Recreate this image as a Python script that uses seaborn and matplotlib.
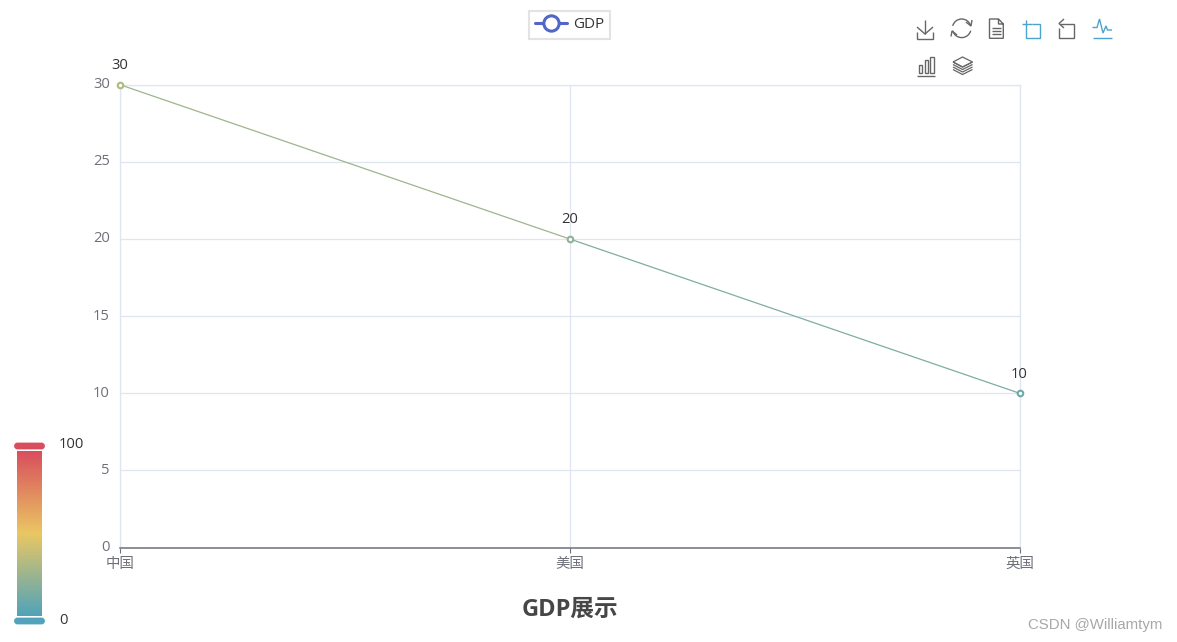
import numpy as np
import pandas as pd
import matplotlib
matplotlib.use("Agg")
import matplotlib.pyplot as plt
import seaborn as sns
from matplotlib.colors import LinearSegmentedColormap
from matplotlib.lines import Line2D
from matplotlib.patches import Arc, FancyBboxPatch, Rectangle

# ── Datos ──────────────────────────────────────────────
categorias = ["中国", "美国", "英国"]
valores = [30, 20, 10]
ticks_y = [0, 5, 10, 15, 20, 25, 30]
escala_min = 0
escala_max = 100
colores_mapa = ["#50a3ba", "#eac763", "#d94e5d"]
titulo = "GDP展示"
serie = "GDP"
marca_agua = "CSDN @Williamtym"

W, H = 1177, 642
GRIS_EJE = "#6e7079"
GRIS_GRID = "#e0e6f1"
GRIS_ICONO = "#666666"
AZUL_ICONO = "#4ea3cc"

sns.set_theme(style="white")
plt.rcParams["font.family"] = ["Open Sans", "Noto Sans CJK SC", "DejaVu Sans"]

cmap = LinearSegmentedColormap.from_list("visual", colores_mapa)
norm = plt.Normalize(escala_min, escala_max)

df = pd.DataFrame({"pais": categorias, "gdp": valores})
df["x"] = np.arange(len(df))

fig = plt.figure(figsize=(W / 100, H / 100), dpi=100)
ax = fig.add_axes([119.6 / W, 1 - 547.6 / H, 900 / W, 463 / H])

# ── Linea: cada tramo con el color de su valor medio ──
for i in range(len(df) - 1):
    tramo = df.iloc[i:i + 2]
    sns.lineplot(data=tramo, x="x", y="gdp", ax=ax, color=cmap(norm(tramo["gdp"].mean())),
                 lw=0.9, zorder=3, clip_on=False, errorbar=None, sort=False)

for _, fila in df.iterrows():
    ax.plot(fila["x"], fila["gdp"], "o", ms=4.0, mfc="white", mew=1.5,
            mec=cmap(norm(fila["gdp"])), zorder=4, clip_on=False)
    ax.annotate(str(fila["gdp"]), (fila["x"], fila["gdp"]), xytext=(0, 19), textcoords="offset pixels",
                ha="center", va="center", fontsize=10.6, color="#333333", annotation_clip=False)

ax.set_xlim(0, len(df) - 1)
ax.set_ylim(min(ticks_y), max(ticks_y))
ax.set_xticks(df["x"], categorias)
ax.set_yticks(ticks_y)
ax.set_xlabel("")
ax.set_ylabel("")
ax.grid(True, color=GRIS_GRID, lw=0.9)
ax.set_axisbelow(True)
for lado in ["top", "left", "right"]:
    ax.spines[lado].set_color(GRIS_GRID)
    ax.spines[lado].set_linewidth(0.9)
ax.spines["bottom"].set_color(GRIS_EJE)
ax.spines["bottom"].set_linewidth(1.1)
ax.tick_params(axis="x", length=3.6, width=0.8, color=GRIS_EJE, labelcolor=GRIS_EJE, labelsize=10.4, pad=3, bottom=True)
ax.tick_params(axis="y", length=0, labelcolor=GRIS_EJE, labelsize=10.6, pad=7)
for etiqueta in ax.get_yticklabels():
    etiqueta.set_verticalalignment("center")

# ── Leyenda ──
asa = Line2D([0], [0], color="#5166c6", lw=2.2, marker="o", ms=11, mfc="white", mew=2.2, mec="#5166c6")
ley = fig.legend([asa], [serie], loc="center", bbox_to_anchor=(569.5 / W, 1 - 25 / H), frameon=True,
                 fontsize=11, labelcolor="#333333", handlelength=2.05, handletextpad=0.4,
                 borderpad=0.42, borderaxespad=0, fancybox=False, edgecolor="#dcdcdc")
ley.get_frame().set_linewidth(1.5)

# ── Capa en pixeles para barra de escala e iconos ──
capa = fig.add_axes([0, 0, 1, 1], facecolor="none")
capa.set_xlim(0, W)
capa.set_ylim(H, 0)
capa.axis("off")

gradiente = np.linspace(1, 0, 256).reshape(-1, 1)
capa.imshow(gradiente, cmap=cmap, aspect="auto", extent=[17, 42, 616, 451], zorder=2)
capa.set_xlim(0, W)
capa.set_ylim(H, 0)
capa.add_patch(FancyBboxPatch((15.5, 444), 28, 4, boxstyle="round,pad=0,rounding_size=2", mutation_aspect=1,
                              fc=cmap(1.0), ec=cmap(1.0), lw=2))
capa.add_patch(FancyBboxPatch((15.5, 619), 28, 4, boxstyle="round,pad=0,rounding_size=2", mutation_aspect=1,
                              fc=cmap(0.0), ec=cmap(0.0), lw=2))
capa.text(59, 445, str(escala_max), fontsize=10.6, color="#333333", va="center")
capa.text(59, 620, str(escala_min), fontsize=10.6, color="#333333", va="center")

fig.text(570 / W, 1 - 610 / H, titulo, ha="center", va="center", fontsize=17, fontweight="bold", color="#464646")
fig.text(1162 / W, 1 - 625 / H, marca_agua, ha="right", va="center", fontsize=10.8, color="#a8a8a8",
         family=["Liberation Sans", "DejaVu Sans"])


def trazo(xs, ys, color=GRIS_ICONO, lw=1.0):
    capa.plot(xs, ys, color=color, lw=lw, solid_joinstyle="miter", solid_capstyle="butt")


# descarga
trazo([925, 925], [20, 34])
trazo([917, 925, 933], [27, 34, 27])
trazo([917, 917, 933, 933], [32, 38.5, 38.5, 32])
# recargar
capa.add_patch(Arc((961.7, 28.3), 18.6, 18.6, theta1=15, theta2=165, ec=GRIS_ICONO, lw=1.0))
capa.add_patch(Arc((961.7, 28.3), 18.6, 18.6, theta1=195, theta2=345, ec=GRIS_ICONO, lw=1.0))
trazo([966, 971, 972], [22, 26, 20])
trazo([951, 952, 957], [36.5, 31, 35])
# documento
trazo([998.5, 989.5, 989.5, 1003.3, 1003.3, 998.5, 998.5, 1003.3], [19, 19, 38.3, 38.3, 24, 19, 24, 24])
for y in [27.5, 31, 34]:
    trazo([992, 1001], [y, y])
# zoom
trazo([1022, 1032], [24, 24], AZUL_ICONO)
trazo([1026, 1026, 1040, 1040, 1032], [19.5, 38.3, 38.3, 23.5, 23.5], AZUL_ICONO)
# deshacer zoom
trazo([1059, 1059, 1074, 1074, 1060], [28, 38.3, 38.3, 23.5, 23.5])
trazo([1064, 1059, 1064], [19, 23.5, 28])
# linea
trazo([1092.5, 1097, 1099.5, 1103, 1106, 1107.5, 1112], [27.5, 27.5, 19, 33, 26, 30, 30], AZUL_ICONO)
trazo([1092.5, 1112], [37.5, 37.5], AZUL_ICONO)
# barras
for x0, y0 in [(918.5, 64.5), (924.5, 60), (930, 56.5)]:
    capa.add_patch(Rectangle((x0, y0), 3.5, 73.3 - y0, fc="none", ec=GRIS_ICONO, lw=1.0))
trazo([916.5, 934.5], [75.5, 75.5])
# capas
for y in [62, 64.5, 67, 69.5]:
    trazo([953, 962.5, 972.5], [y, y + 5, y], lw=0.9)
trazo([953, 962.5, 972.5, 962.5, 953], [62, 57, 62, 67, 62], lw=0.9)

fig.savefig("out.png", dpi=100)
